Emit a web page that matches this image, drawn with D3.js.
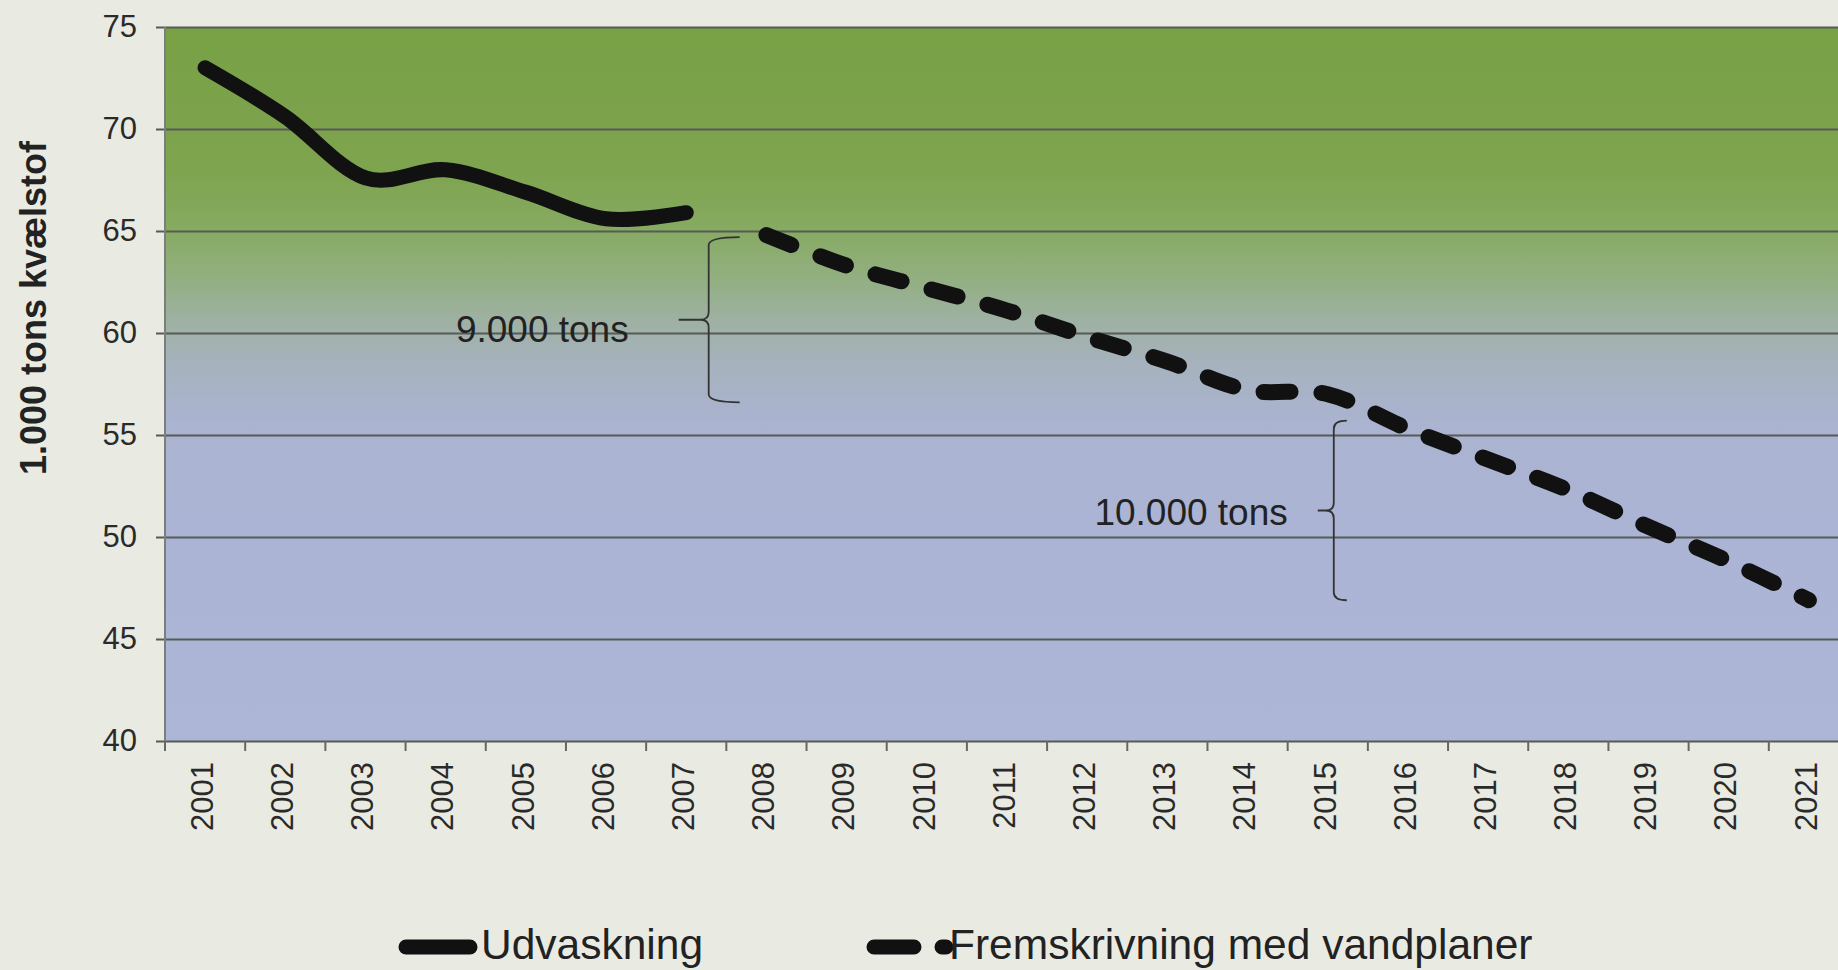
<!DOCTYPE html>
<html><head><meta charset="utf-8">
<script src="https://cdn.jsdelivr.net/npm/d3@7"></script>
<style>
html,body{margin:0;padding:0;background:#e9ebe3;overflow:hidden}
svg{display:block}
text{font-family:"Liberation Sans",Arial,Helvetica,sans-serif}
</style></head><body>
<svg id="chart" width="1838" height="970"></svg>
<script>
// ---- data ----
const years = ["2001","2002","2003","2004","2005","2006","2007","2008","2009","2010","2011",
               "2012","2013","2014","2015","2016","2017","2018","2019","2020","2021"];
const udvaskningYears = ["2001","2002","2003","2004","2005","2006","2007"];
const udvaskning = [73.0, 70.6, 67.6, 68.0, 66.9, 65.6, 65.9];
const fremskrivningYears = ["2008","2009","2010","2011","2012","2013","2014","2015",
                            "2016","2017","2018","2019","2020","2021"];
const fremskrivning = [64.8, 63.3, 62.2, 61.1, 59.8, 58.6, 57.2, 57.0, 55.3, 53.8, 52.3, 50.5, 48.8, 46.9];
const yTicks = [40, 45, 50, 55, 60, 65, 70, 75];
const yTitle = "1.000 tons kvælstof";
const seriesNames = ["Udvaskning", "Fremskrivning med vandplaner"];
const annotLabels = ["9.000 tons", "10.000 tons"];
const annotFrom = [64.7, 55.7];
const annotTo = [56.6, 46.9];
const annotYear = ["2007", "2015"];

// ---- layout ----
const W = 1838, H = 970;
const L = 165, T = 27, B = 741, Rr = 1849;
const svg = d3.select("#chart");

const x = d3.scaleBand().domain(years).range([L, Rr]).padding(0);
const y = d3.scaleLinear().domain([40, 75]).range([B, T]);
const bw = x.bandwidth();
const cx = d => x(d) + bw / 2;

// background gradient
const defs = svg.append("defs");
const grad = defs.append("linearGradient").attr("id", "bg")
  .attr("x1", 0).attr("y1", 0).attr("x2", 0).attr("y2", 1);
[[0, "#78a145"], [0.2, "#7ea44f"], [0.28, "#86aa60"], [0.35, "#92af80"],
 [0.41, "#9eb1a2"], [0.47, "#a6b2bd"], [0.55, "#aab3cf"], [0.7, "#acb4d5"], [1, "#aeb6d7"]]
  .forEach(([o, c]) => grad.append("stop").attr("offset", o).attr("stop-color", c));

svg.append("rect").attr("x", L).attr("y", T).attr("width", W - L).attr("height", B - T)
  .attr("fill", "url(#bg)");

// gridlines + y axis
const yAxis = d3.axisLeft(y).tickValues(yTicks).tickSize(0).tickPadding(28);
const gy = svg.append("g").attr("transform", `translate(${L},0)`).call(yAxis);
gy.select(".domain").remove();
gy.selectAll(".tick text").attr("font-size", 31).attr("fill", "#2a2a2a")
  .style("font-family", '"Liberation Sans",Arial,sans-serif');
gy.selectAll(".tick").append("line")
  .attr("x1", -9).attr("x2", W - L).attr("stroke", "#555b55").attr("stroke-width", 2);

// left border line
svg.append("line").attr("x1", L).attr("x2", L).attr("y1", T).attr("y2", B + 10)
  .attr("stroke", "#7a7f7a").attr("stroke-width", 2);

// x axis
const xAxis = d3.axisBottom(x).tickSize(0).tickPadding(0);
const gx = svg.append("g").attr("transform", `translate(0,${B})`).call(xAxis);
gx.select(".domain").remove();
gx.selectAll(".tick text")
  .attr("font-size", 31).attr("fill", "#2a2a2a")
  .style("font-family", '"Liberation Sans",Arial,sans-serif')
  .attr("text-anchor", "end").attr("x", 0).attr("y", 0).attr("dy", "0.25em")
  .attr("transform", "translate(0,21) rotate(-90)");
// boundary ticks
svg.append("g").selectAll("line").data(years.concat(["end"])).join("line")
  .attr("x1", (d, i) => L + i * bw).attr("x2", (d, i) => L + i * bw)
  .attr("y1", B).attr("y2", B + 10).attr("stroke", "#666").attr("stroke-width", 2);

// y title
svg.append("text").attr("transform", "translate(46,308) rotate(-90)")
  .attr("text-anchor", "middle").attr("font-size", 36).attr("font-weight", "bold")
  .attr("fill", "#222").text(yTitle);

// lines
const line = d3.line().x(d => cx(d[0])).y(d => y(d[1])).curve(d3.curveCardinal.tension(0));
svg.append("path").datum(udvaskningYears.map((d, i) => [d, udvaskning[i]]))
  .attr("d", line).attr("fill", "none").attr("stroke", "#111").attr("stroke-width", 15)
  .attr("stroke-linecap", "round").attr("stroke-linejoin", "round");
svg.append("path").datum(fremskrivningYears.map((d, i) => [d, fremskrivning[i]]))
  .attr("d", line).attr("fill", "none").attr("stroke", "#111").attr("stroke-width", 16)
  .attr("stroke-linecap", "round").attr("stroke-linejoin", "round")
  .attr("stroke-dasharray", "27,31");

// annotations (braces)
const braceCfg = [{off: 0.78, tick: 30, serif: 31, gap: 50, base: 22},
                  {off: 0.575, tick: 16, serif: 13, gap: 30, base: 15}];
annotLabels.forEach((lab, i) => {
  const c = braceCfg[i];
  const bx = x(annotYear[i]) + bw * c.off;
  const t = y(annotFrom[i]), b = y(annotTo[i]), m = (t + b) / 2;
  const r = 8;
  const p = `M${bx + c.serif},${t} Q${bx},${t} ${bx},${t + r} L${bx},${m - r} Q${bx},${m} ${bx - r},${m} L${bx - c.tick},${m}` +
            ` M${bx - r},${m} Q${bx},${m} ${bx},${m + r} L${bx},${b - r} Q${bx},${b} ${bx + c.serif},${b}`;
  svg.append("path").attr("d", p).attr("fill", "none").attr("stroke", "#333").attr("stroke-width", 1.8);
  svg.append("text").attr("x", bx - c.tick - c.gap).attr("y", m + c.base)
    .attr("text-anchor", "end").attr("font-size", 37).attr("fill", "#222").text(lab);
});

// legend
const lg = svg.append("g");
lg.append("line").attr("x1", 406).attr("x2", 470).attr("y1", 947).attr("y2", 947)
  .attr("stroke", "#111").attr("stroke-width", 15).attr("stroke-linecap", "round");
lg.append("text").attr("x", 481).attr("y", 959).attr("font-size", 42.5).attr("fill", "#222").text(seriesNames[0]);
lg.append("line").attr("x1", 874).attr("x2", 946).attr("y1", 947).attr("y2", 947)
  .attr("stroke", "#111").attr("stroke-width", 15).attr("stroke-linecap", "round")
  .attr("stroke-dasharray", "40,28");
lg.append("text").attr("x", 949).attr("y", 959).attr("font-size", 42.5).attr("fill", "#222").text(seriesNames[1]);
</script>
</body></html>
